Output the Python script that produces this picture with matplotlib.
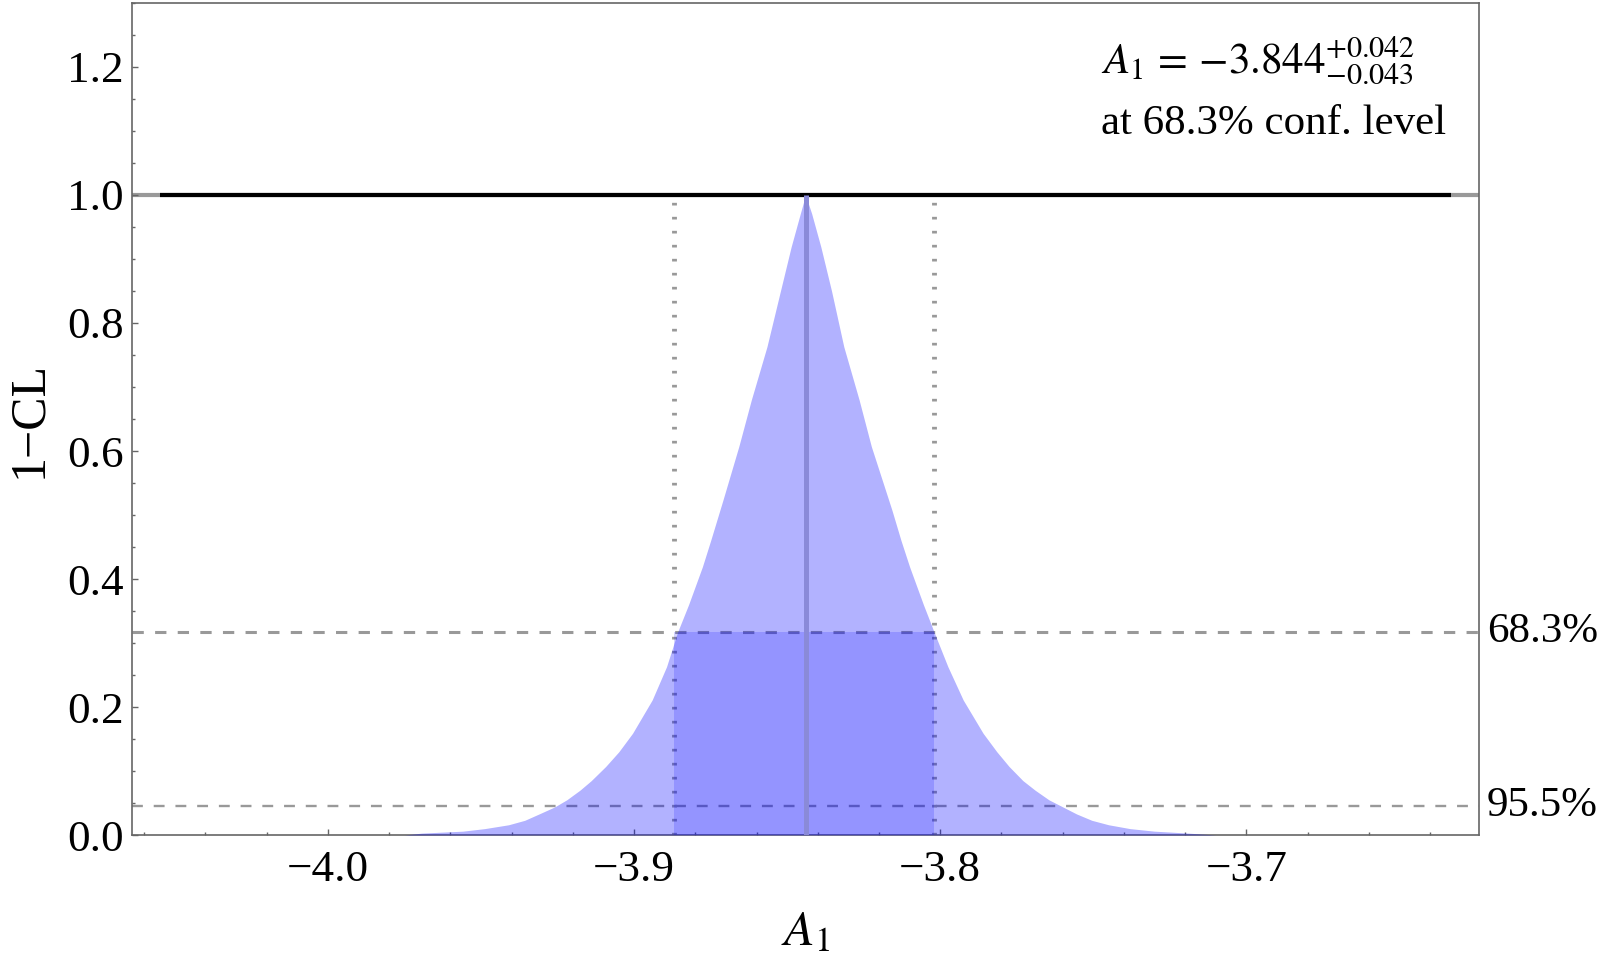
import matplotlib
matplotlib.use("Agg")
import matplotlib.pyplot as plt
from matplotlib.ticker import MultipleLocator, FuncFormatter

plt.rcParams['font.family'] = ['Liberation Serif', 'DejaVu Serif']
plt.rcParams['mathtext.fontset'] = 'stix'

# 1-CL profile (left flank, then right flank)
x_left = [-3.975, -3.9693, -3.956, -3.9488, -3.941, -3.9357, -3.931, -3.9259, -3.922,
          -3.9177, -3.914, -3.9093, -3.905, -3.9005, -3.8941, -3.8894, -3.8858, -3.8822,
          -3.8777, -3.8750, -3.8710, -3.8658, -3.8617, -3.8566, -3.8522, -3.8487, -3.8457, -3.844]
cl_left = [0.0, 0.003, 0.006, 0.010, 0.016, 0.023, 0.033, 0.044, 0.055,
           0.070, 0.085, 0.107, 0.13, 0.159, 0.211, 0.263, 0.317, 0.36,
           0.419, 0.46, 0.523, 0.607, 0.68, 0.763, 0.85, 0.919, 0.971, 1.0]
x_right = [-3.8420, -3.8390, -3.8355, -3.8315, -3.8265, -3.8225, -3.8158, -3.8128, -3.8100,
           -3.8055, -3.8020, -3.7975, -3.7925, -3.7860, -3.7815, -3.7775, -3.7730, -3.7690,
           -3.7645, -3.7600, -3.7555, -3.7505, -3.7450, -3.7380, -3.7300, -3.7190, -3.7100]
cl_right = [0.971, 0.919, 0.85, 0.763, 0.68, 0.607, 0.508, 0.46, 0.419,
            0.36, 0.317, 0.263, 0.211, 0.159, 0.13, 0.107, 0.085, 0.070,
            0.055, 0.044, 0.033, 0.023, 0.016, 0.010, 0.006, 0.003, 0.0]

best = -3.844
err_up = 0.042
err_down = 0.043
levels = [0.317, 0.045]
level_names = ['68.3%', '95.5%']
top_line = [-4.055, -3.633]
xlim = [-4.064, -3.624]
ylim = [0, 1.3]

xs = x_left + x_right
cls = cl_left + cl_right
lo = best - err_down
hi = best + err_up

fig = plt.figure(figsize=(16, 9.64), dpi=100)
ax = fig.add_axes([0.0825, 0.1338, 0.8419, 0.8631])

ax.axhline(1.0, color='#999999', lw=3, zorder=1)
ax.plot(top_line, [1.0, 1.0], color='black', lw=3, solid_capstyle='butt', zorder=2)

ax.axhline(levels[0], color='#999999', lw=2.2, ls=(0, (3.7, 3.7)), zorder=1)
ax.axhline(levels[1], color='#999999', lw=1.7, ls=(0, (4.6, 4.6)), zorder=1)
for xv in [lo, hi]:
    ax.plot([xv, xv], [0, 0.995], color='#999999', lw=3.5, ls=(0, (0.55, 2.33)), zorder=1)

ax.fill_between(xs, 0, cls, color='blue', alpha=0.3, lw=0, zorder=3)
ax.fill_between([lo, hi], 0, levels[0], color='blue', alpha=0.17, lw=0, zorder=3)
ax.plot([best, best], [0, 1.0], color='#8a8ad8', lw=3.6, solid_capstyle='butt', zorder=4)

ax.set_xlim(xlim)
ax.set_ylim(ylim)
ax.xaxis.set_major_locator(MultipleLocator(0.1))
ax.xaxis.set_minor_locator(MultipleLocator(0.02))
ax.yaxis.set_major_locator(MultipleLocator(0.2))
ax.yaxis.set_minor_locator(MultipleLocator(0.05))
fmt = FuncFormatter(lambda v, p: ('%.1f' % v).replace('-', '\u2212'))
ax.xaxis.set_major_formatter(fmt)
ax.yaxis.set_major_formatter(fmt)

for s in ax.spines.values():
    s.set_color('#666666')
    s.set_linewidth(1.2)
ax.tick_params(which='both', direction='in', color='#666666', labelsize=32.5, top=False, right=False)
ax.tick_params(which='major', length=4, width=1)
ax.tick_params(which='minor', length=2.5, width=1)
ax.tick_params(axis='x', which='major', pad=11)
ax.tick_params(axis='y', which='major', pad=6)

ax.set_xlabel(r'$A_1$', fontsize=36, labelpad=14)
ax.set_ylabel('1\u2212CL', fontsize=36)
ax.yaxis.set_label_coords(-0.059, 0.5)

ax.text(0.719, 1.19, r'$A_1\,=\,{-}3.844^{+0.042}_{-0.043}$', transform=ax.get_yaxis_transform(),
        fontsize=31, ha='left', va='baseline')
ax.text(0.719, 1.095, 'at 68.3% conf. level', transform=ax.get_yaxis_transform(),
        fontsize=31, ha='left', va='baseline')

for lv, name in zip(levels, level_names):
    ax.text(1.006, lv, name, transform=ax.get_yaxis_transform(), fontsize=31,
            ha='left', va='center', clip_on=False)

fig.savefig('out.png', dpi=100)
